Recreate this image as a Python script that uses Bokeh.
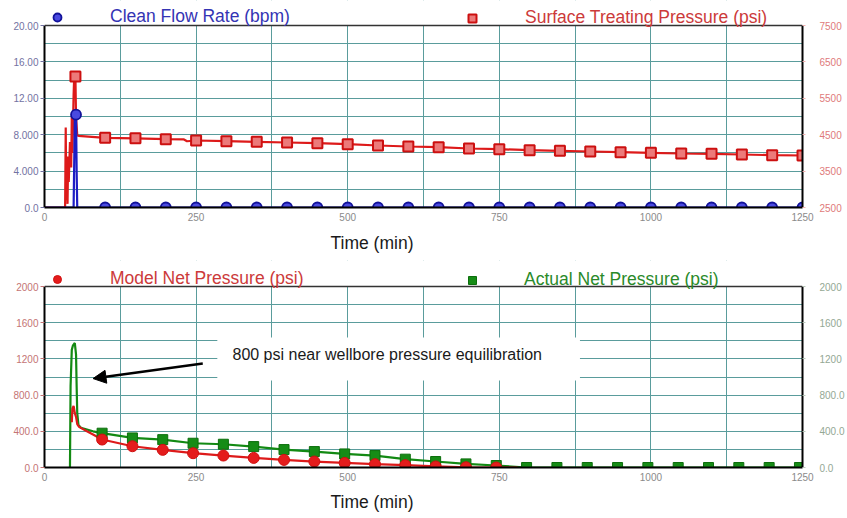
from bokeh.plotting import figure
from bokeh.models import (Range1d, LinearAxis, FixedTicker, Legend, LegendItem,
                          Label, Arrow, NormalHead, BoxAnnotation, Span, Title)
from bokeh.layouts import column
from bokeh.embed import file_html
from bokeh.resources import INLINE

# ---------------- data ----------------
# top chart: clean flow rate (bpm), left axis
flow_time = [0, 48, 50, 52, 53, 54, 100, 1250]
flow_rate = [0, 0, 9.8, 10.2, 4.0, 0, 0, 0]
flow_marker_time = [52, 100, 150, 200, 250, 300, 350, 400, 450, 500, 550, 600, 650,
                    700, 750, 800, 850, 900, 950, 1000, 1050, 1100, 1150, 1200, 1250]
flow_marker_rate = [10.2, 0, 0, 0, 0, 0, 0, 0, 0, 0, 0, 0, 0,
                    0, 0, 0, 0, 0, 0, 0, 0, 0, 0, 0, 0]

# top chart: surface treating pressure (psi), right axis
stp_time = [0, 34, 35, 36, 37, 38, 39, 40, 42, 44, 45, 46, 48, 49, 51, 52, 54, 56,
            100, 150, 200, 230, 235, 250, 300, 350, 400, 450, 500, 550, 600, 650,
            700, 750, 800, 850, 900, 950, 1000, 1050, 1100, 1150, 1200, 1250]
stp_psi = [2500, 2500, 4700, 2700, 3500, 2600, 3900, 3200, 4300, 3600, 5000, 4000,
           5600, 6100, 6100, 5000, 4480, 4470,
           4415, 4400, 4376, 4370, 4320, 4340, 4321, 4304, 4286, 4267, 4239, 4203,
           4176, 4157, 4121, 4102, 4075, 4057, 4038, 4020, 4002, 3984, 3975, 3956,
           3938, 3929]
stp_marker_time = [51, 100, 150, 200, 250, 300, 350, 400, 450, 500, 550, 600, 650,
                   700, 750, 800, 850, 900, 950, 1000, 1050, 1100, 1150, 1200, 1250]
stp_marker_psi = [6100, 4415, 4400, 4376, 4340, 4321, 4304, 4286, 4267, 4239, 4203,
                  4176, 4157, 4121, 4102, 4075, 4057, 4038, 4020, 4002, 3984, 3975,
                  3956, 3938, 3929]

# bottom chart: model net pressure (psi)
model_time = [45, 46, 48, 50, 52, 54, 57, 62, 70, 80, 95, 145, 195, 245, 295, 345,
              395, 445, 495, 545, 595, 645, 695, 745, 780]
model_psi = [500, 650, 680, 600, 560, 480, 450, 430, 400, 365, 309, 235, 195, 158,
             132, 106, 84, 66, 51, 37, 26, 12, 3, 0, 0]
model_marker_time = [95, 145, 195, 245, 295, 345, 395, 445, 495, 545, 595, 645, 695, 745]
model_marker_psi = [309, 235, 195, 158, 132, 106, 84, 66, 51, 37, 26, 12, 3, 0]

# bottom chart: actual net pressure (psi)
actual_time = [42, 43, 45, 47, 50, 52, 53, 54, 56, 60, 70, 80, 95, 145, 195, 245,
               295, 345, 395, 445, 495, 545, 595, 645, 695, 745, 795, 845, 895, 945,
               995, 1045, 1095, 1145, 1195, 1245]
actual_psi = [0, 900, 1300, 1350, 1375, 1250, 900, 600, 470, 440, 420, 400, 379,
              327, 308, 268, 257, 231, 198, 176, 150, 132, 92, 66, 40, 22, 0, 0, 0,
              0, 0, 0, 0, 0, 0, 0]
actual_marker_time = [95, 145, 195, 245, 295, 345, 395, 445, 495, 545, 595, 645, 695,
                      745, 795, 845, 895, 945, 995, 1045, 1095, 1145, 1195, 1245]
actual_marker_psi = [379, 327, 308, 268, 257, 231, 198, 176, 150, 132, 92, 66, 40,
                     22, 0, 0, 0, 0, 0, 0, 0, 0, 0, 0]

# axes / ticks
time_ticks = [0, 250, 500, 750, 1000, 1250]
time_grid = [125, 250, 375, 500, 625, 750, 875, 1000, 1125]
rate_ticks = [0, 4, 8, 12, 16, 20]
rate_tick_labels = ["0.0", "4.000", "8.000", "12.00", "16.00", "20.00"]
rate_grid = [2, 4, 6, 8, 10, 12, 14, 16, 18]
stp_ticks = [2500, 3500, 4500, 5500, 6500, 7500]
net_ticks = [0, 400, 800, 1200, 1600, 2000]
net_tick_labels = ["0.0", "400.0", "800.0", "1200", "1600", "2000"]
net_grid = [200, 400, 600, 800, 1000, 1200, 1400, 1600, 1800]

annotation_text = "800 psi near wellbore pressure equilibration"
arrow_from = (261, 1149)
arrow_to = (80, 983)
note_pos = (310, 1249)
note_box = (285, 883, 961, 1436)  # left, right, bottom, top

FONT = "Liberation Sans"
GRID = "#5a9c9c"
BLUE = "#1c1cc4"
RED = "#dd1a1a"
GREEN = "#138a13"

# layout: the plot frame extends above the data area to hold the legends
FRAME_H = 207
TOP_AREA = 182   # px of the data area in the top chart
BOT_AREA = 181   # px of the data area in the bottom chart
rate_max, stp_min, stp_max, net_max = 20, 2500, 7500, 2000
rate_top = rate_max * FRAME_H / TOP_AREA
stp_top = stp_min + (stp_max - stp_min) * FRAME_H / TOP_AREA
net_top = net_max * FRAME_H / BOT_AREA


def style_common(p, data_top):
    p.outline_line_color = None
    p.background_fill_color = "white"
    p.border_fill_color = "white"
    p.xgrid.ticker = FixedTicker(ticks=time_grid)
    for g in (p.xgrid[0], p.ygrid[0]):
        g.grid_line_color = GRID
        g.grid_line_width = 1
    xa = p.xaxis[0]
    xa.ticker = FixedTicker(ticks=time_ticks)
    xa.major_tick_out = 0
    xa.major_tick_in = 0
    xa.minor_tick_line_color = None
    xa.axis_line_color = "black"
    xa.axis_line_width = 2
    xa.major_label_text_font = FONT
    xa.major_label_text_font_size = "10px"
    xa.major_label_text_color = "#8a8a8a"
    xa.major_label_text_align = "right"
    xa.major_label_standoff = 5
    # white strip above data area (legend zone) and the top frame line
    p.add_layout(BoxAnnotation(bottom=data_top, fill_color="white", fill_alpha=1,
                               line_color=None))
    p.add_layout(Span(location=data_top, dimension="width", line_color="#333333",
                      line_width=1.5))


def style_y(ax, color, tickcolor, tick_out, bounds):
    ax.bounds = bounds
    ax.major_tick_out = tick_out
    ax.major_tick_in = 0
    ax.minor_tick_line_color = None
    ax.major_tick_line_color = tickcolor
    ax.axis_line_color = "black"
    ax.axis_line_width = 2
    ax.major_label_text_font = FONT
    ax.major_label_text_font_size = "10px"
    ax.major_label_text_color = color
    ax.major_label_standoff = 2


def add_legend(p, renderer, text, color, vx, vy, standoff):
    lg = Legend(items=[LegendItem(label=text, renderers=[renderer])],
                location=(vx, vy), orientation="horizontal",
                label_text_font=FONT, label_text_font_size="17.5px",
                label_text_color=color, label_standoff=standoff,
                glyph_width=20, glyph_height=20, label_height=20,
                padding=0, margin=0, spacing=0,
                border_line_color=None, background_fill_alpha=0)
    p.add_layout(lg, "center")


def add_time_title(p, standoff):
    p.add_layout(Title(text="Time (min)", align="left", offset=286,
                       text_font=FONT, text_font_size="17.5px",
                       text_font_style="normal", text_color="#1a1a1a",
                       standoff=standoff), "below")


# ---------------- top figure ----------------
p1 = figure(width=847, height=260, x_range=Range1d(0, 1250),
            y_range=Range1d(0, rate_top),
            output_backend="svg", toolbar_location=None,
            min_border_left=44, min_border_right=41, min_border_top=0,
            min_border_bottom=53)
p1.extra_y_ranges = {"psi": Range1d(stp_min, stp_top)}
p1.ygrid.ticker = FixedTicker(ticks=rate_grid)
la = p1.yaxis[0]
la.ticker = FixedTicker(ticks=rate_ticks)
la.major_label_overrides = dict(zip(rate_ticks, rate_tick_labels))
style_y(la, "#7272a2", "#7272a2", 4, (0, rate_max))
ra = LinearAxis(y_range_name="psi", ticker=FixedTicker(ticks=stp_ticks))
style_y(ra, "#e07a7a", "#f0b0b0", 3, (stp_min, stp_max))
ra.major_label_standoff = 14
p1.add_layout(ra, "right")

p1.line(stp_time, stp_psi, y_range_name="psi", line_color=RED, line_width=2.2)
stp_sc = p1.scatter(stp_marker_time, stp_marker_psi, y_range_name="psi", marker="square",
                    size=10, fill_color="#ec7a7a", line_color="#cc1010", line_width=2)
p1.line(flow_time, flow_rate, line_color=BLUE, line_width=2.2)
flow_sc = p1.scatter(flow_marker_time, flow_marker_rate, marker="circle", size=10,
                     fill_color="#4a4ae0", line_color="#12129a", line_width=1.8)
style_common(p1, rate_max)

add_legend(p1, flow_sc, "Clean Flow Rate (bpm)", "#3434b4", 3, 180, 43)
add_legend(p1, stp_sc, "Surface Treating Pressure (psi)", "#cc3a3a", 418, 179, 43)
add_time_title(p1, 15)

# ---------------- bottom figure ----------------
p2 = figure(width=847, height=258, x_range=Range1d(0, 1250),
            y_range=Range1d(0, net_top),
            output_backend="svg", toolbar_location=None,
            min_border_left=44, min_border_right=41, min_border_top=0,
            min_border_bottom=51)
p2.extra_y_ranges = {"net2": Range1d(0, net_top)}
p2.ygrid.ticker = FixedTicker(ticks=net_grid)
la2 = p2.yaxis[0]
la2.ticker = FixedTicker(ticks=net_ticks)
la2.major_label_overrides = dict(zip(net_ticks, net_tick_labels))
style_y(la2, "#c47474", "#c47474", 4, (0, net_max))
ra2 = LinearAxis(y_range_name="net2", ticker=FixedTicker(ticks=net_ticks))
ra2.major_label_overrides = dict(zip(net_ticks, net_tick_labels))
style_y(ra2, "#94a894", "#b8c8b8", 3, (0, net_max))
ra2.major_label_standoff = 14
p2.add_layout(ra2, "right")

p2.line(actual_time, actual_psi, line_color=GREEN, line_width=2.2)
p2.line(model_time, model_psi, line_color=RED, line_width=2.2)
act_sc = p2.scatter(actual_marker_time, actual_marker_psi, marker="square", size=10,
                    fill_color="#168c16", line_color="#0c6e0c", line_width=1)
mod_sc = p2.scatter(model_marker_time, model_marker_psi, marker="circle", size=11,
                    fill_color="#e41c1c", line_color="#d01010", line_width=1)
style_common(p2, net_max)

add_legend(p2, mod_sc, "Model Net Pressure (psi)", "#cc3a3a", 3, 178, 43)
add_legend(p2, act_sc, "Actual Net Pressure (psi)", "#2a8a2a", 418, 177, 42)

p2.add_layout(BoxAnnotation(left=note_box[0], right=note_box[1], bottom=note_box[2],
                            top=note_box[3], fill_color="white", fill_alpha=1,
                            line_color=None))
p2.add_layout(Arrow(end=NormalHead(size=13, fill_color="black", line_color="black"),
                    x_start=arrow_from[0], y_start=arrow_from[1],
                    x_end=arrow_to[0], y_end=arrow_to[1],
                    line_color="black", line_width=2.5))
p2.add_layout(Label(x=note_pos[0], y=note_pos[1], text=annotation_text,
                    text_align="left", text_baseline="middle", text_font=FONT,
                    text_font_size="16px", text_color="#1a1a1a"))
add_time_title(p2, 12)

layout = column(p1, p2, spacing=0)
open("out.html", "w").write(file_html(layout, INLINE))
